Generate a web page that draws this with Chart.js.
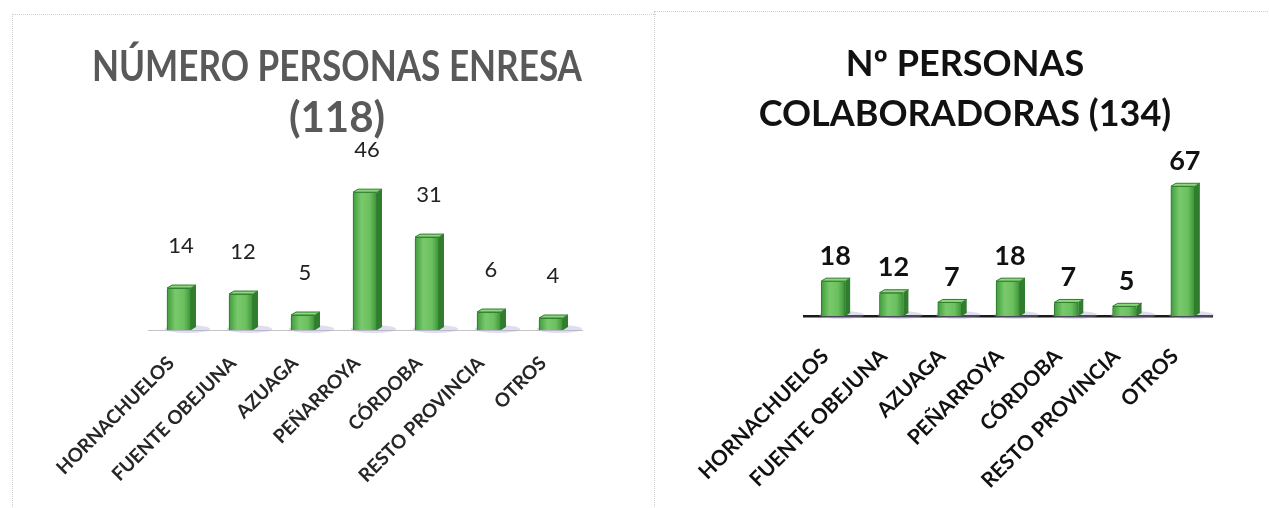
<!DOCTYPE html>
<html>
<head>
<meta charset="utf-8">
<script src="https://cdn.jsdelivr.net/npm/chart.js@4.4.1/dist/chart.umd.min.js"></script>
<style>
  body { margin: 0; background: #fff; width: 1269px; height: 508px; overflow: hidden; position: relative; font-family: Lato, sans-serif; }
  .panel { position: absolute; border-top: 1px dotted #cfcfcf; border-left: 1px dotted #cfcfcf; }
  #p1 { left: 12px; top: 14px; width: 643px; height: 494px; }
  #p2 { left: 654px; top: 11px; width: 615px; height: 497px; }
  canvas { display: block; }
</style>
</head>
<body>
<div class="panel" id="p1"><canvas id="enresaChart" width="642" height="493"></canvas></div>
<div class="panel" id="p2"><canvas id="colabChart" width="614" height="496"></canvas></div>

<script>
// categories shared by both charts
const categories = ["HORNACHUELOS", "FUENTE OBEJUNA", "AZUAGA", "PEÑARROYA", "CÓRDOBA", "RESTO PROVINCIA", "OTROS"];

// values
const enresaValues = [14, 12, 5, 46, 31, 6, 4];
const colabValues = [18, 12, 7, 18, 7, 5, 67];

const enresaTitle = ["NÚMERO PERSONAS ENRESA", "(118)"];
const colabTitle = ["Nº PERSONAS", "COLABORADORAS (134)"];

// green front face, lighter in the middle
function barGradient(ctx) {
  const chart = ctx.chart;
  if (ctx.type !== "data" || !chart.scales.x) return "#5cb85c";
  const x = chart.scales.x.getPixelForValue(ctx.dataIndex);
  if (!isFinite(x)) return "#5cb85c";
  const w = ctx.dataset.barThickness;
  const g = chart.ctx.createLinearGradient(x - w / 2, 0, x + w / 2, 0);
  g.addColorStop(0, "#3f9b3c");
  g.addColorStop(0.35, "#79c96b");
  g.addColorStop(0.7, "#6cc05f");
  g.addColorStop(1, "#3a9237");
  return g;
}

// shadow, side and top faces so bars look like the 3d columns
const boxPlugin = {
  id: "box3d",
  beforeDatasetsDraw(chart) {
    const c = chart.ctx;
    chart.getDatasetMeta(0).data.forEach(bar => {
      c.save();
      c.fillStyle = "rgba(160,160,210,0.35)";
      c.beginPath();
      c.ellipse(bar.x + bar.width * 0.35, bar.base - 1, bar.width * 0.95, 4, 0, 0, Math.PI * 2);
      c.fill();
      c.restore();
    });
  },
  afterDatasetsDraw(chart) {
    const c = chart.ctx;
    const d = 5;
    chart.getDatasetMeta(0).data.forEach(bar => {
      const l = bar.x - bar.width / 2, r = bar.x + bar.width / 2;
      c.save();
      // side
      c.fillStyle = "#2f7d2d";
      c.beginPath();
      c.moveTo(r, bar.y);
      c.lineTo(r + d, bar.y - d * 0.6);
      c.lineTo(r + d, bar.base - d * 0.6);
      c.lineTo(r, bar.base);
      c.closePath();
      c.fill();
      // top
      c.fillStyle = "#8ed77f";
      c.strokeStyle = "#2f7d2d";
      c.lineWidth = 1;
      c.beginPath();
      c.moveTo(l, bar.y);
      c.lineTo(l + d, bar.y - d * 0.6);
      c.lineTo(r + d, bar.y - d * 0.6);
      c.lineTo(r, bar.y);
      c.closePath();
      c.fill();
      c.stroke();
      c.restore();
    });
  }
};

// numbers over the bars
const valueLabels = {
  id: "valueLabels",
  afterDatasetsDraw(chart, args, opts) {
    const c = chart.ctx;
    const ds = chart.data.datasets[0];
    c.save();
    c.font = opts.font;
    c.fillStyle = opts.color;
    c.textAlign = "center";
    c.textBaseline = "middle";
    chart.getDatasetMeta(0).data.forEach((bar, i) => {
      c.fillText(ds.data[i], bar.x + 2, bar.y - opts.offset);
    });
    c.restore();
  }
};

function makeChart(id, values, cfg) {
  return new Chart(document.getElementById(id), {
    type: "bar",
    data: {
      labels: categories,
      datasets: [{
        data: values,
        backgroundColor: barGradient,
        borderColor: "#2c7a2a",
        borderWidth: 1,
        borderSkipped: "bottom",
        borderRadius: 2,
        barThickness: cfg.barWidth
      }]
    },
    plugins: [boxPlugin, valueLabels],
    options: {
      responsive: false,
      animation: false,
      layout: { padding: cfg.padding },
      plugins: {
        legend: { display: false },
        tooltip: { enabled: false },
        title: {
          display: true,
          text: cfg.title,
          color: cfg.titleColor,
          font: { family: "Lato", weight: "bold", size: cfg.titleSize, lineHeight: cfg.titleLine },
          padding: { top: cfg.titleTop, bottom: 0 }
        },
        valueLabels: cfg.labels
      },
      scales: {
        x: {
          grid: { display: false },
          border: { display: true, color: cfg.axisColor, width: cfg.axisWidth },
          afterFit: s => { s.height = cfg.axisHeight; },
          ticks: {
            autoSkip: false,
            maxRotation: 45,
            minRotation: 45,
            padding: cfg.tickPad,
            labelOffset: -8,
            color: cfg.tickColor,
            font: { family: "Lato", size: cfg.tickSize, weight: "bold" }
          }
        },
        y: {
          display: true,
          min: 0,
          max: cfg.yMax,
          grid: { display: false },
          border: { display: false },
          ticks: { display: false },
          afterFit: s => { s.width = cfg.yWidth; }
        }
      }
    }
  });
}

makeChart("enresaChart", enresaValues, {
  title: enresaTitle, titleColor: "#595959", titleSize: 42, titleLine: 1.21, titleTop: 27,
  padding: { left: 79, right: 73, top: 0, bottom: 0 }, yWidth: 56,
  barWidth: 24, axisColor: "#c4c4c4", axisWidth: 1, axisHeight: 178,
  tickColor: "#262626", tickSize: 19, tickPad: 14, yMax: 62.2,
  labels: { font: "22px Lato", color: "#222", offset: 42 }
});

makeChart("colabChart", colabValues, {
  title: colabTitle, titleColor: "#111", titleSize: 36, titleLine: 1.4, titleTop: 27,
  padding: { left: 63, right: 57, top: 0, bottom: 0 }, yWidth: 86,
  barWidth: 24, axisColor: "#1a1a1a", axisWidth: 2.5, axisHeight: 192,
  tickColor: "#111", tickSize: 21, tickPad: 20, yMax: 91,
  labels: { font: "bold 27px Lato", color: "#111", offset: 25 }
});
</script>
</body>
</html>
